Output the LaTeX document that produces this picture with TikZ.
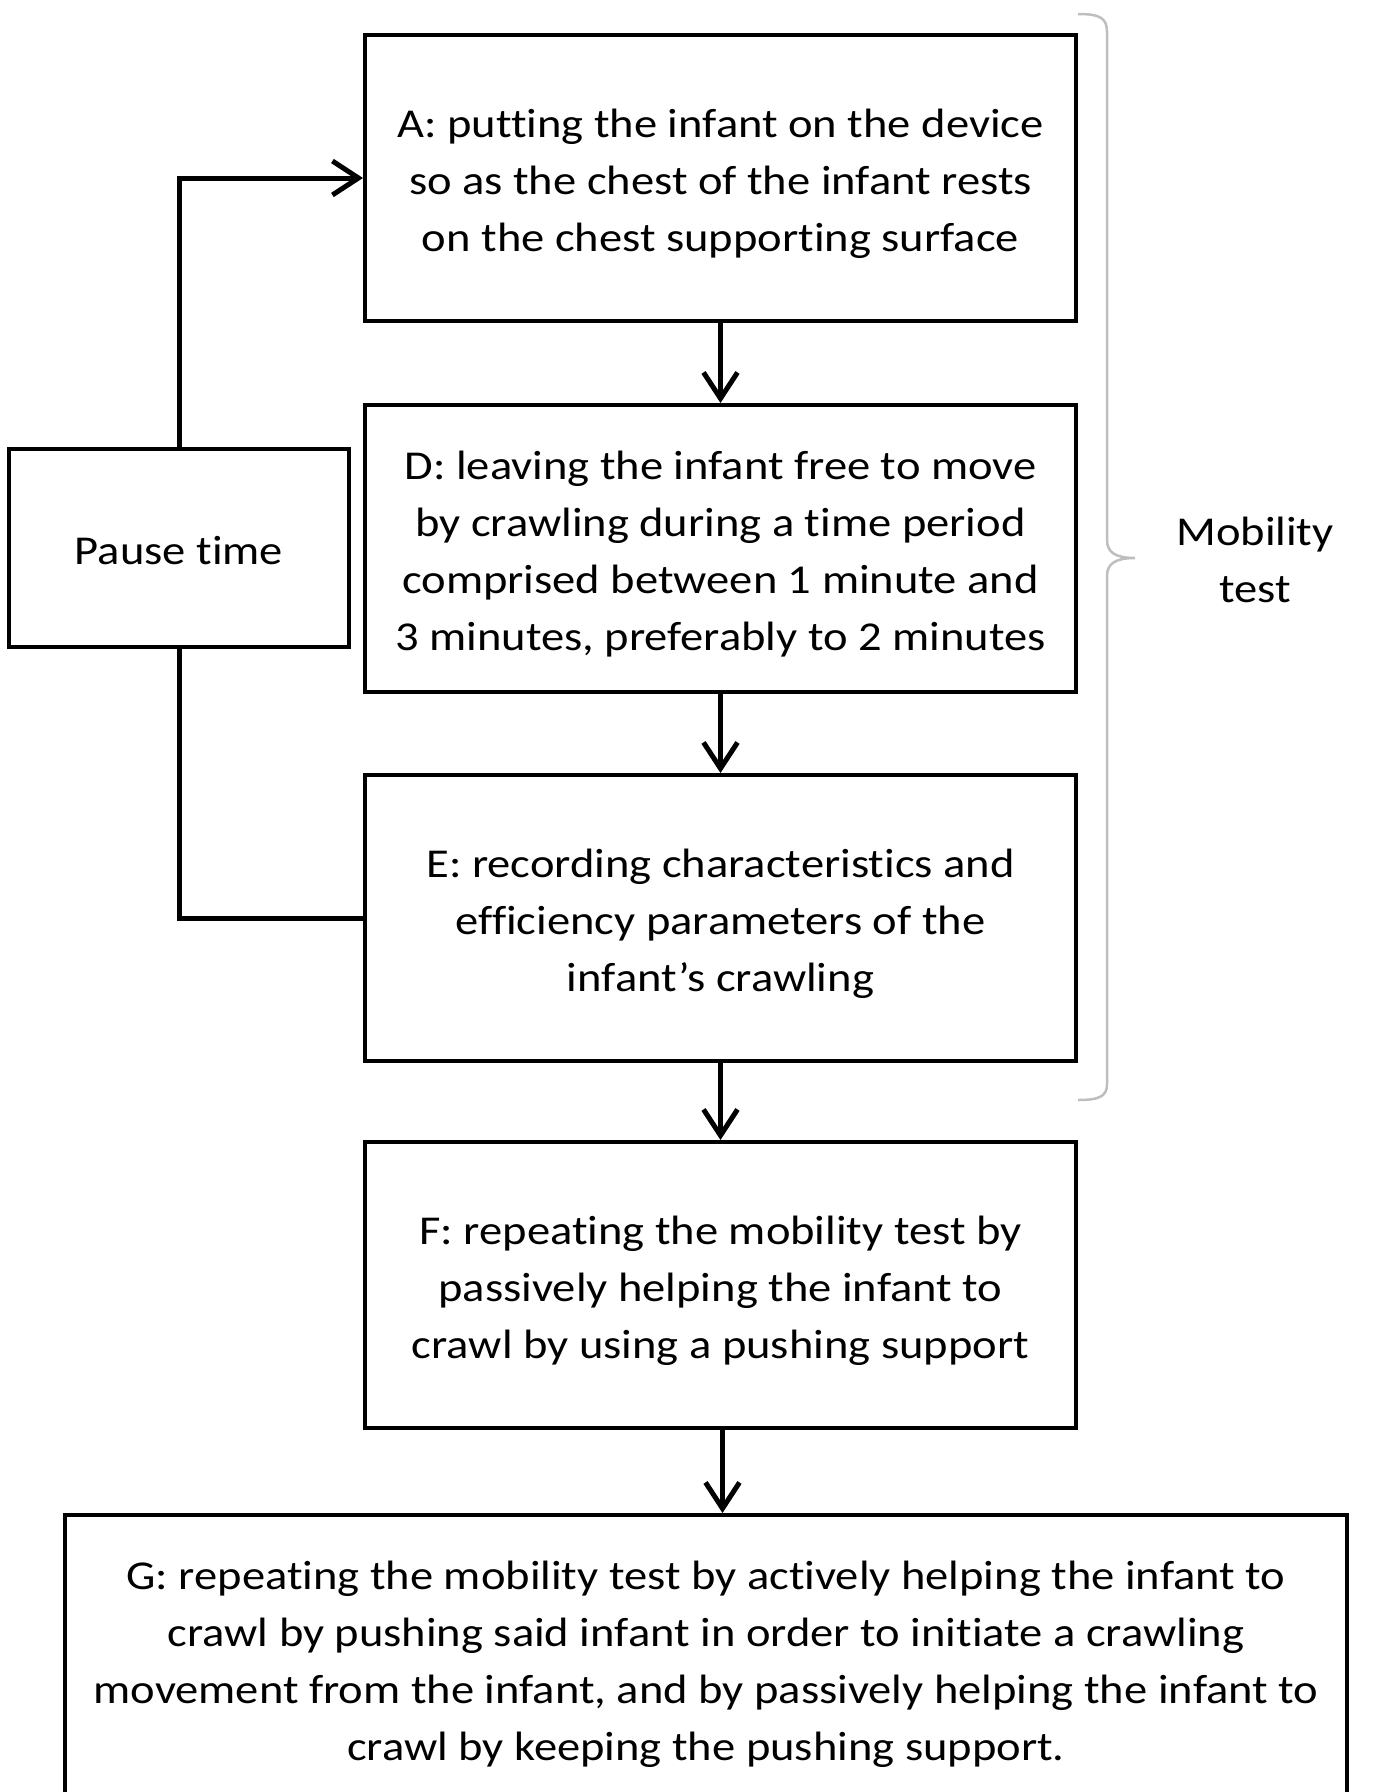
\documentclass[tikz,border=0pt]{standalone}
\usepackage{fontspec}
\setmainfont{Carlito}[FakeStretch=1.135, Ligatures={NoCommon}]
\usetikzlibrary{arrows.meta}
\definecolor{bracegray}{RGB}{190,190,190}
\tikzset{
  stepbox/.style={draw=black, line width=4pt, inner sep=0pt},
  steptext/.style={inner sep=0pt, align=center, font=\fontsize{41}{57}\selectfont},
  flow/.style={line width=5pt, -{Straight Barb[length=26pt,width=34pt,line width=5pt]}},
  loopline/.style={line width=5pt},
}
\begin{document}
\begin{tikzpicture}[x=1pt,y=-1pt]
\useasboundingbox (0,0) rectangle (1389,1792);
\node[stepbox, minimum width=711pt, minimum height=286pt] (A) at (720.5,178) {};
\node[steptext] (At) at ([yshift=-6pt]A.center)
  {A: putting the infant on the device\\so as the chest of the infant rests\\on the chest supporting surface};
\node[stepbox, minimum width=711pt, minimum height=287pt] (D) at (720.5,548.5) {};
\node[steptext] (Dt) at ([yshift=-6pt]D.center)
  {D: leaving the infant free to move\\by crawling during a time period\\comprised between 1 minute and\\3 minutes, preferably to 2 minutes};
\node[stepbox, minimum width=711pt, minimum height=286pt] (E) at (720.5,918) {};
\node[steptext] (Et) at ([yshift=-6pt]E.center)
  {E: recording characteristics and\\efficiency parameters of the\\infant’s crawling};
\node[stepbox, minimum width=711pt, minimum height=286pt] (F) at (720.5,1285) {};
\node[steptext] (Ft) at ([yshift=-6pt]F.center)
  {F: repeating the mobility test by\\passively helping the infant to\\crawl by using a pushing support};
\node[stepbox, minimum width=340pt, minimum height=198pt] (P) at (179,548) {};
\node[steptext] (Pt) at ([yshift=-3pt]P.center) {Pause time};
\begin{scope}
\clip (0,0) rectangle (1389,1792);
\node[stepbox, minimum width=1282pt, minimum height=293pt] (G) at (706,1661.5) {};
\end{scope}
\node[steptext] (Gt) at ([yshift=-2.5pt]G.center)
  {G: repeating the mobility test by actively helping the infant to\\crawl by pushing said infant in order to initiate a crawling\\movement from the infant, and by passively helping the infant to\\crawl by keeping the pushing support.};
\draw[flow] (A.south) -- (D.north);
\draw[flow] (D.south) -- (E.north);
\draw[flow] (E.south) -- (F.north);
\draw[flow] ([xshift=2pt]F.south) -- ([xshift=2pt]F.south |- G.north);
\draw[flow] (P.north) |- (A.west);
\draw[loopline] (P.south) |- (E.west);
% brace
\coordinate (bt) at (1078,14);
\coordinate (bb) at (1078,1100);
\coordinate (btip) at (1135,558);
\draw[bracegray, line width=2.5pt]
  (bt) .. controls (1100,14) and (1107,18) .. (1107,32)
  -- (1107,540) .. controls (1107,552) and (1115,558) .. (btip)
  .. controls (1115,558) and (1107,564) .. (1107,576)
  -- (1107,1084) .. controls (1107,1096) and (1100,1100) .. (bb);
\node[steptext] (M) at (1255,560) {Mobility\\test};
\end{tikzpicture}
\end{document}
